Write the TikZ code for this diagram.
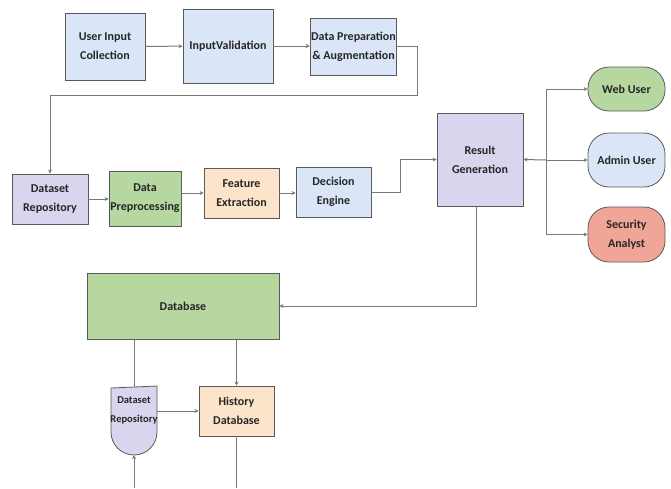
\documentclass[tikz,border=0pt]{standalone}
\usepackage{fontspec}
\setmainfont{Carlito}
\usetikzlibrary{arrows.meta,backgrounds}
\definecolor{boxblue}{RGB}{218,230,248}
\definecolor{boxlilac}{RGB}{216,213,238}
\definecolor{boxgreen}{RGB}{182,215,160}
\definecolor{boxpeach}{RGB}{252,228,202}
\definecolor{boxsalmon}{RGB}{240,165,150}
\definecolor{edgegray}{RGB}{120,120,120}
\definecolor{framegray}{RGB}{90,90,90}
\tikzset{
  box/.style={
    rectangle,
    draw=framegray,
    line width=0.8pt,
    align=center,
    inner sep=1pt,
    text=black!85,
    font=\bfseries\fontsize{12}{19}\selectfont
  },
  sized/.style 2 args={minimum width=#1pt, minimum height=#2pt},
  box-blue/.style={box, fill=boxblue},
  box-lilac/.style={box, fill=boxlilac},
  box-green/.style={box, fill=boxgreen},
  box-peach/.style={box, fill=boxpeach},
  user/.style={box, rounded corners=21pt},
  link/.style={
    draw=edgegray,
    line width=1pt,
    -{Stealth[length=4pt,width=4pt]}
  },
  plain/.style={draw=edgegray, line width=1pt}
}

\begin{document}
\begin{tikzpicture}[x=1pt,y=-1pt]
  \useasboundingbox (0,0) rectangle (671,488);
  % top row
  \node[box-blue, sized={80}{67}] (uic) at (105,46.5) {User Input\\Collection};
  \node[box-blue, sized={90}{74}] (ival) at (228,46) {InputValidation};
  \node[box-blue, sized={85}{57}] (dprep) at (353.5,46.5) {Data Preparation\\\& Augmentation};
  % middle row
  \node[box-lilac, sized={76}{50}] (drepo) at (50,199) {Dataset\\Repository};
  \node[box-green, sized={72}{55}] (dpre) at (145,198.5) {Data\\Preprocessing};
  \node[box-peach, sized={75}{50}] (fext) at (241.5,193) {Feature\\Extraction};
  \node[box-blue, sized={75}{50}] (deng) at (333.5,192) {Decision\\Engine};
  \node[box-lilac, sized={86}{93}] (resg) at (480,159.5) {Result\\Generation};
  % users
  \node[user, fill=boxgreen, sized={77}{44}] (webu) at (626.5,89) {Web User};
  \node[user, fill=boxblue, sized={77}{54}] (admu) at (626.5,160) {Admin User};
  \node[user, fill=boxsalmon, sized={77}{55}] (seca) at (626.5,234.5) {Security\\Analyst};
  % storage
  \node[box-green, sized={192}{66}] (db) at (183,306) {Database};
  \node[box, draw=none, inner sep=0pt, sized={46}{46},
        font=\bfseries\fontsize{10.5}{19}\selectfont] (drepo2) at (134,410) {Dataset\\Repository};
  \begin{pgfonlayer}{background}
    \draw[fill=boxlilac, draw=framegray, line width=0.8pt]
      ([shift={(-23,-22)}]drepo2.center) -- ([shift={(23,-24)}]drepo2.center)
      -- ([shift={(23,22)}]drepo2.center)
      arc[start angle=0, end angle=-180, radius=23pt] -- cycle;
  \end{pgfonlayer}
  \coordinate (drepo2r) at ([shift={(23,1)}]drepo2.center);
  \coordinate (drepo2b) at ([shift={(0,45)}]drepo2.center);
  \node[box-peach, sized={75}{50}] (hdb) at (236.5,411) {History\\Database};

  \coordinate (wrap) at (417,95);
  \coordinate (split) at (546,160);
  \coordinate (inA) at (134,488);
  \coordinate (outB) at (236.5,488);

  \draw[link] (uic) -- (ival);
  \draw[link] (ival.east) -- (ival.east -| dprep.west);
  \draw[link] (dprep.east) -| (wrap) -| (drepo.north);
  \draw[link] (drepo.east) -- (drepo.east -| dpre.west);
  \draw[link] (dpre.east |- fext.west) -- (fext.west);
  \draw[link] (fext.east) -- (fext.east -| deng.west);
  \draw[link] (deng.east) -- ++(29,0) |- (resg.west);
  \draw[link] (split) -- (resg.east);
  \draw[link] (split) |- (webu.west);
  \draw[link] (split) -- (admu.west);
  \draw[link] (split) |- (seca.west);
  \draw[link] ([xshift=-4pt]resg.south) |- (db.east);
  \draw[plain] (db.south -| drepo2.north) -- ++(0,48);
  \draw[link] (db.south -| hdb.north) -- (hdb.north);
  \draw[link] (drepo2r) -- (drepo2r -| hdb.west);
  \draw[link] (inA) -- (drepo2b);
  \draw[plain] (hdb.south) -- (outB);
\end{tikzpicture}
\end{document}
